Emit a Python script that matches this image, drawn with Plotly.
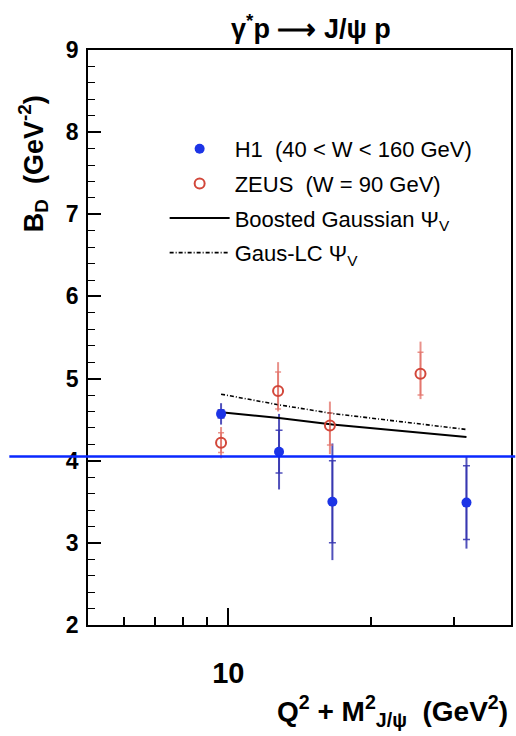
import plotly.graph_objects as go

# ---- data ----
h1_x = [9.65, 12.8, 16.6, 31.9]
h1_y = [4.57, 4.11, 3.50, 3.49]
h1_stat = [0.05, 0.26, 0.50, 0.45]
h1_tot = [0.13, 0.46, 0.71, 0.56]

zeus_x = [9.65, 12.74, 16.4, 25.5]
zeus_y = [4.22, 4.85, 4.43, 5.06]
zeus_tot_up = [0.19, 0.35, 0.29, 0.39]
zeus_tot_dn = [0.19, 0.25, 0.35, 0.31]
zeus_stat_up = [0.12, 0.23, 0.15, 0.26]
zeus_stat_dn = [0.12, 0.22, 0.24, 0.26]

curve_x = [9.65, 12.8, 16.6, 31.9]
boosted_y = [4.59, 4.52, 4.44, 4.29]
gauslc_y = [4.81, 4.68, 4.575, 4.38]

ref_level = 4.05

x_major = [10]
x_minor = [6, 7, 8, 9, 20, 30]

FONT = "Liberation Sans, Arial, Helvetica, sans-serif"
H1_MARK = "#1c34e6"
H1_BAR = "rgba(50,50,175,0.85)"
Z_MARK = "#d2473a"
Z_BAR = "rgba(225,110,100,0.75)"

fig = go.Figure()

# H1 total errors (no caps)
fig.add_trace(go.Scatter(
    x=h1_x, y=h1_y, mode="markers", marker=dict(size=0.1, color="rgba(0,0,0,0)"),
    error_y=dict(type="data", array=h1_tot, color=H1_BAR, thickness=2, width=0),
    showlegend=False, hoverinfo="skip"))
# ZEUS total errors
fig.add_trace(go.Scatter(
    x=zeus_x, y=zeus_y, mode="markers", marker=dict(size=0.1, color="rgba(0,0,0,0)"),
    error_y=dict(type="data", symmetric=False, array=zeus_tot_up, arrayminus=zeus_tot_dn,
                 color=Z_BAR, thickness=2, width=0),
    showlegend=False, hoverinfo="skip"))

# curves
fig.add_trace(go.Scatter(
    x=curve_x, y=boosted_y, mode="lines", line=dict(color="black", width=2),
    name="Boosted Gaussian \u03a8<sub>V</sub>", legendgroup="c", legendrank=3))
fig.add_trace(go.Scatter(
    x=curve_x, y=gauslc_y, mode="lines", line=dict(color="black", width=1.6, dash="4px,2px,1px,2px"),
    name="Gaus-LC \u03a8<sub>V</sub>", legendgroup="d", legendrank=4))

# ZEUS points with stat ticks
fig.add_trace(go.Scatter(
    x=zeus_x, y=zeus_y, mode="markers",
    marker=dict(symbol="circle-open", size=10, color=Z_MARK, line=dict(width=2, color=Z_MARK)),
    error_y=dict(type="data", symmetric=False, array=zeus_stat_up, arrayminus=zeus_stat_dn,
                 color=Z_BAR, thickness=1.5, width=3),
    name="ZEUS\u00a0\u00a0(W = 90 GeV)", legendgroup="b", legendrank=2))
# H1 points with stat ticks
fig.add_trace(go.Scatter(
    x=h1_x, y=h1_y, mode="markers",
    marker=dict(symbol="circle", size=10, color=H1_MARK),
    error_y=dict(type="data", array=h1_stat, color=H1_BAR, thickness=1.5, width=3.5),
    name="H1\u00a0\u00a0(40 < W < 160 GeV)", legendgroup="a", legendrank=1))

fig.add_shape(type="line", xref="paper", yref="y", x0=-0.186, x1=1.01, y0=ref_level, y1=ref_level,
              line=dict(color="#0a28ff", width=2.5), layer="above")

fig.update_layout(
    width=516, height=736,
    margin=dict(l=88, r=3, t=50, b=111),
    paper_bgcolor="white", plot_bgcolor="white",
    font=dict(family=FONT, color="black"),
    showlegend=True,
    legend=dict(x=(165 - 88) / 425, y=(625 - 128) / 575, xanchor="left", yanchor="top",
                font=dict(size=22, family=FONT), bgcolor="rgba(0,0,0,0)",
                tracegroupgap=3, traceorder="grouped", itemwidth=60),
    xaxis=dict(type="log", range=[0.703, 1.598], showgrid=False, zeroline=False,
               showline=True, linecolor="black", linewidth=1.5, mirror=True,
               tickmode="array", tickvals=x_major, ticktext=["10"],
               ticks="inside", ticklen=17, tickwidth=1.5, tickcolor="black",
               tickfont=dict(size=29, family=FONT, weight="bold"), ticklabelstandoff=21,
               minor=dict(tickmode="array", tickvals=x_minor, ticks="inside", ticklen=8,
                          tickwidth=1.5, tickcolor="black", showgrid=False)),
    yaxis=dict(range=[2, 9], showgrid=False, zeroline=False,
               showline=True, linecolor="black", linewidth=1.5, mirror=True,
               tickmode="linear", tick0=2, dtick=1,
               ticks="inside", ticklen=13, tickwidth=1.5, tickcolor="black",
               tickfont=dict(size=23, family=FONT, weight="bold"), ticklabelstandoff=3,
               minor=dict(dtick=0.2, ticks="inside", ticklen=7, tickwidth=1.2,
                          tickcolor="black", showgrid=False)),
    annotations=[
        dict(text="\u03b3<sup>*</sup>p \u27f6 J/\u03c8 p", xref="paper", yref="paper",
             x=(312 - 88) / 425, y=(625 - 27) / 575, showarrow=False,
             font=dict(size=27, family=FONT, weight="bold"), xanchor="center", yanchor="middle"),
        dict(text="B<sub>D</sub>  (GeV<sup>-2</sup>)", xref="paper", yref="paper", textangle=-90,
             x=(33 - 88) / 425, y=(625 - 164) / 575, showarrow=False,
             font=dict(size=27, family=FONT, weight="bold"), xanchor="center", yanchor="middle"),
        dict(text="Q<sup>2</sup> + M<sup>2</sup><sub>J/\u03c8</sub>  (GeV<sup>2</sup>)",
             xref="paper", yref="paper", x=(512 - 88) / 425, y=(625 - 711) / 575,
             showarrow=False, font=dict(size=28, family=FONT, weight="bold"),
             xanchor="right", yanchor="middle"),
    ],
)

fig.write_html("out.html")
